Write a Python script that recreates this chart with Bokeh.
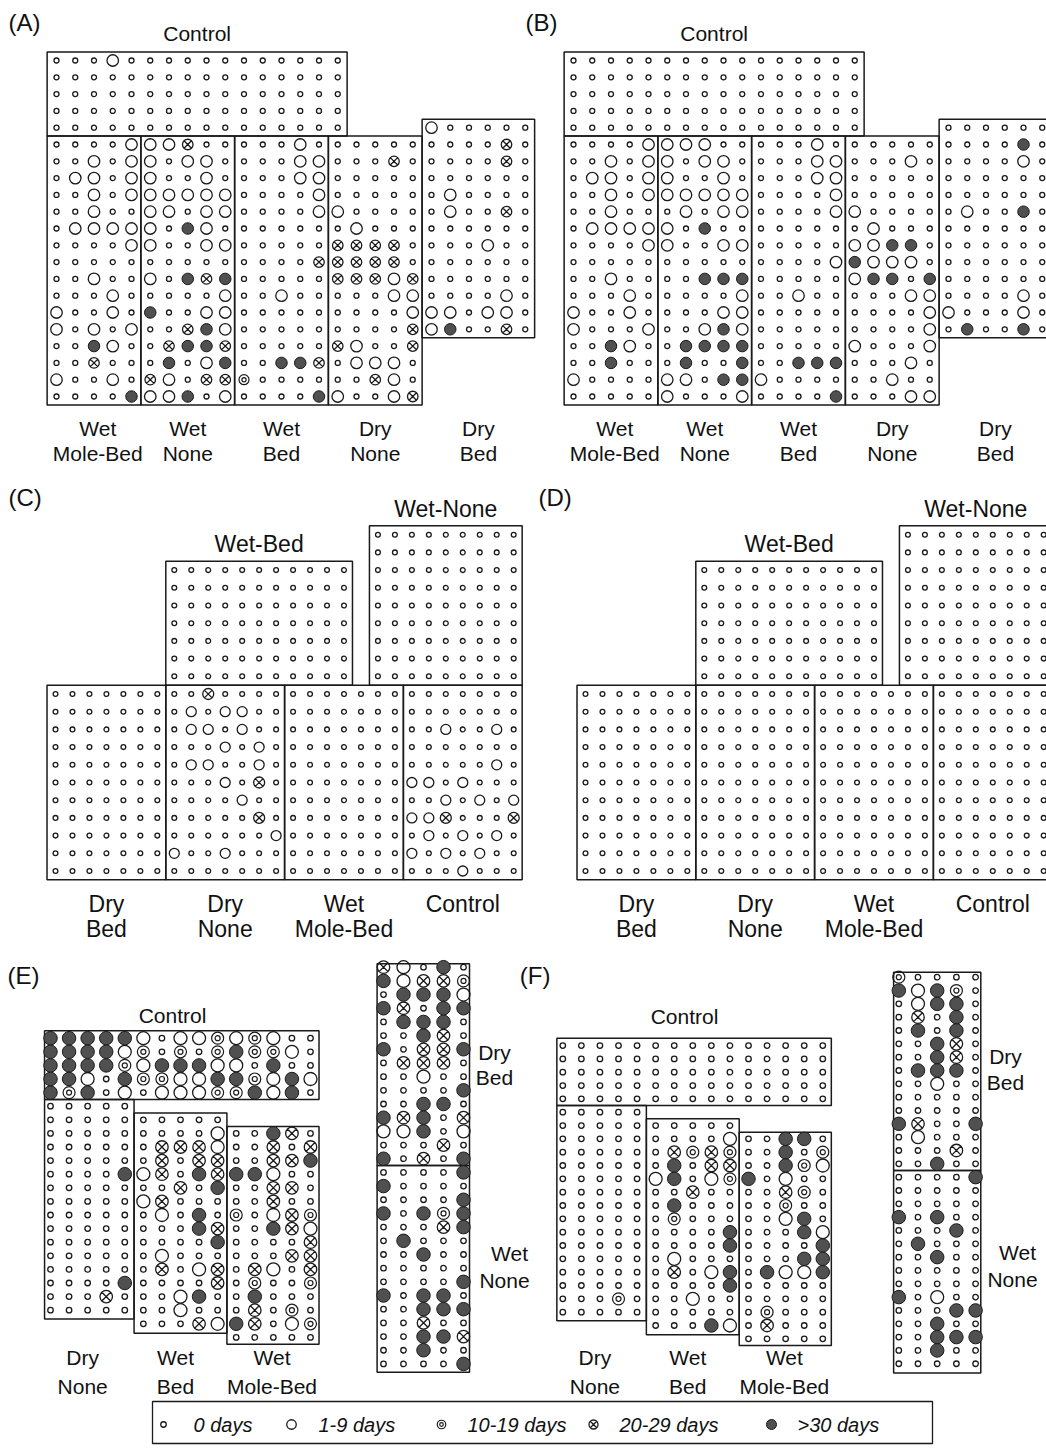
from bokeh.plotting import figure
from bokeh.models import Range1d, ColumnDataSource
from bokeh.embed import file_html
from bokeh.resources import INLINE
from bokeh.core.properties import value

# ---------------- DATA ----------------
# category codes: 0 = 0 days, 1 = 1-9 days, 2 = 10-19 days, 3 = 20-29 days, 4 = >30 days
CATEGORY_LABELS = ["0 days", "1-9 days", "10-19 days", "20-29 days", ">30 days"]

# Panel A
A_CONTROL = ["0001000000000000", "0000000000000000", "0000000000000000",
             "0000000000000000", "0000000000000000"]
A_WET_MOLE_BED = ["00001", "00101", "01101", "00101", "00100", "01111", "00001", "00000",
                  "00100", "00010", "10010", "10101", "00410", "00300", "10010", "00004"]
A_WET_NONE = ["11300", "10110", "10010", "11111", "11011", "10410", "10011", "00000",
              "10434", "00001", "40011", "00341", "03443", "04014", "31033", "11401"]
A_WET_BED = ["00010", "00011", "00011", "00001", "00001", "00000", "00000", "00003",
             "00000", "00100", "00000", "00000", "00000", "00443", "20000", "00004"]
A_DRY_NONE = ["00000", "00030", "00000", "00000", "10000", "01000", "33330", "33330",
              "33313", "00011", "00001", "00003", "31003", "01110", "00310", "10013"]
A_DRY_BED = ["100000", "000030", "000030", "000000", "010000", "010030", "000000",
             "000100", "000000", "000000", "000010", "110110", "140030"]

# Panel B
B_CONTROL = ["0000000000000000", "0000000000000000", "0000000000000000",
             "0000000000000000", "0000000000000000"]
B_WET_MOLE_BED = ["00001", "00101", "01101", "00101", "00100", "01111", "00001", "00000",
                  "00100", "00010", "10010", "10001", "00410", "00400", "10000", "00000"]
B_WET_NONE = ["11100", "10110", "10010", "11111", "01011", "10400", "10011", "00000",
              "00444", "00001", "00011", "00141", "04444", "04004", "11044", "10001"]
B_WET_BED = ["00010", "00011", "00011", "00001", "00001", "00000", "00000", "00001",
             "00000", "00100", "00000", "00000", "00000", "00444", "10000", "00004"]
B_DRY_NONE = ["00000", "00010", "00000", "00000", "10000", "01000", "11440", "41110",
              "14404", "00011", "00001", "00001", "10001", "00010", "00100", "00011"]
B_DRY_BED = ["000000", "000040", "000010", "000000", "000000", "010040", "000000",
             "000000", "000000", "000000", "000010", "100010", "040040"]

# Panel C
C_WET_BED_TOP = ["00000000000", "00000000000", "00000000000", "00000000000",
                 "00000000000", "00000000000", "00000000000"]
C_WET_NONE_TOP = ["000000000", "000000000", "000000000", "000000000", "000000000",
                  "000000000", "000000000", "000000000", "000000000"]
C_DRY_BED = ["0000000", "0000000", "0000000", "0000000", "0000000", "0000000",
             "0000000", "0000000", "0000000", "0000000", "0000000"]
C_DRY_NONE = ["0030000", "0101100", "0110100", "0001010", "0110010", "0001030",
              "0000100", "0000030", "0000001", "1001000", "0000000"]
C_WET_MOLE_BED = ["0000000", "0000000", "0000000", "0000000", "0000000", "0000000",
                  "0000000", "0000000", "0000000", "0000000", "0000000"]
C_CONTROL = ["0000000", "0000000", "0010010", "0000000", "0000010", "1101000",
             "0010101", "1130003", "0101010", "1010100", "0001000"]

# Panel D
D_WET_BED_TOP = ["00000000000", "00000000000", "00000000000", "00000000000",
                 "00000000000", "00000000000", "00000000000"]
D_WET_NONE_TOP = ["000000000", "000000000", "000000000", "000000000", "000000000",
                  "000000000", "000000000", "000000000", "000000000"]
D_DRY_BED = ["0000000", "0000000", "0000000", "0000000", "0000000", "0000000",
             "0000000", "0000000", "0000000", "0000000", "0000000"]
D_DRY_NONE = ["0000000", "0000000", "0000000", "0000000", "0000000", "0000000",
              "0000000", "0000000", "0000000", "0000000", "0000000"]
D_WET_MOLE_BED = ["0000000", "0000000", "0000000", "0000000", "0000000", "0000000",
                  "0000000", "0000000", "0000000", "0000000", "0000000"]
D_CONTROL = ["0000000", "0000000", "0000000", "0000000", "0000000", "0000000",
             "0000000", "0000000", "0000000", "0000000", "0000000"]

# Panel E
E_CONTROL = ["444441011212100", "444412020242210", "444421444110400",
             "441042211442141", "424010111224140"]
E_DRY_NONE = ["00000", "00000", "00000", "00000", "00000", "00004", "00000", "00000",
              "00000", "00000", "00000", "00000", "00000", "00004", "00030", "00000"]
E_WET_BED = ["00000", "00001", "03331", "03033", "13043", "00304", "13000", "01040",
             "00043", "00004", "01000", "03013", "00003", "00140", "00100", "00031"]
E_WET_MOLE_BED = ["00430", "00303", "00334", "44100", "00330", "00300", "20132", "00431",
                  "00003", "00033", "03103", "02002", "04000", "03020", "43012", "00000"]
E_STRIP_DRY_BED = ["31040", "41332", "04441", "43044", "04440", "00430", "40334", "03330",
                   "00100", "00004", "00440", "43403", "11401", "00030", "40304"]
E_STRIP_WET_NONE = ["00004", "40000", "00004", "40424", "00034", "04000", "00400", "00000",
                    "00004", "40440", "00444", "00300", "00443", "00400", "00004"]

# Panel F
F_CONTROL = ["000000000000000", "000000000000000", "000000000000000",
             "000000000000000", "000000000000000"]
F_DRY_NONE = ["00000", "00000", "00000", "00000", "00000", "00000", "00000", "00000",
              "00000", "00000", "00000", "00000", "00000", "00000", "00020", "00000"]
F_WET_BED = ["00000", "00001", "03232", "04033", "14012", "00300", "04000", "02000",
             "00004", "00004", "01000", "03014", "00004", "00100", "00000", "00041"]
F_WET_MOLE_BED = ["00440", "00402", "00421", "40100", "00320", "00200", "00140", "00041",
                  "00004", "00044", "04114", "00000", "00000", "02000", "03000", "00000"]
F_STRIP_DRY_BED = ["20000", "41420", "01440", "03040", "04040", "00430", "00430", "04440",
                   "00100", "00000", "00000", "43004", "01000", "00030", "00400"]
F_STRIP_WET_NONE = ["00004", "00000", "00000", "40400", "00040", "04000", "00400", "00000",
                    "00000", "40100", "00044", "00400", "00444", "00400", "00000"]

# ---------------- LAYOUT ----------------
W, H = 1046, 1451
FONT = value("Liberation Sans")
INK = "#1a1a1a"
FILL = "#505050"


class Grid:
    def __init__(self, x0, dx, y0, dy, sizes):
        self.x0, self.dx, self.y0, self.dy, self.sizes = x0, dx, y0, dy, sizes

    def X(self, c):
        return self.x0 + c * self.dx

    def Y(self, r):
        return self.y0 + r * self.dy


pts = {k: {"x": [], "y": [], "s": []} for k in range(5)}
boxes = {"left": [], "right": [], "top": [], "bottom": []}
labels = []  # (x, y, text, size, align)


def block(g, grid, c0, r0):
    for i, row in enumerate(grid):
        for j, ch in enumerate(row):
            k = int(ch)
            pts[k]["x"].append(g.X(c0 + j))
            pts[k]["y"].append(g.Y(r0 + i))
            pts[k]["s"].append(g.sizes[k])


def box(g, c_a, c_b, r_a, r_b):
    boxes["left"].append(g.X(c_a))
    boxes["right"].append(g.X(c_b))
    boxes["top"].append(g.Y(r_a))
    boxes["bottom"].append(g.Y(r_b))


def label(x, y, text, size, align="center"):
    labels.append((x, y, text, size, align))


SIZES_AB = [5.0, 11.5, 10.0, 10.5, 11.5]
SIZES_CD = [4.8, 10.0, 9.5, 11.0, 10.5]
SIZES_EF = [5.5, 13.0, 12.0, 12.5, 13.5]


def panel_ab(x0, tag, ctrl, wmb, wn, wb, dn, db):
    g = Grid(x0, 18.75, 144.0, 16.8, SIZES_AB)
    block(g, ctrl, 0, -5)
    block(g, wmb, 0, 0)
    block(g, wn, 5, 0)
    block(g, wb, 10, 0)
    block(g, dn, 15, 0)
    block(g, db, 20, -1)
    box(g, -0.5, 15.5, -5.5, -0.5)
    box(g, -0.5, 4.5, -0.5, 15.5)
    box(g, 4.5, 9.5, -0.5, 15.5)
    box(g, 9.5, 14.5, -0.5, 15.5)
    box(g, 14.5, 19.5, -0.5, 15.5)
    box(g, 19.5, 25.5, -1.5, 11.5)
    fs = 21
    label(x0 - 48, 22, tag, 24, "left")
    label(g.X(7.5), 33, "Control", fs)
    for c, l1, l2 in [(2.2, "Wet", "Mole-Bed"), (7, "Wet", "None"), (12, "Wet", "Bed"),
                      (17, "Dry", "None"), (22.5, "Dry", "Bed")]:
        label(g.X(c), 428, l1, fs)
        label(g.X(c), 453, l2, fs)


def panel_cd(x0, tag, wbt, wnt, dbed, dn, wmb, ctrl):
    g = Grid(x0, 16.97, 693.5, 17.7, SIZES_CD)
    block(g, wbt, 7, -7)
    block(g, wnt, 19, -9)
    block(g, dbed, 0, 0)
    block(g, dn, 7, 0)
    block(g, wmb, 14, 0)
    block(g, ctrl, 21, 0)
    box(g, 6.5, 17.5, -7.5, -0.5)
    box(g, 18.5, 27.5, -9.5, -0.5)
    box(g, -0.5, 6.5, -0.5, 10.5)
    box(g, 6.5, 13.5, -0.5, 10.5)
    box(g, 13.5, 20.5, -0.5, 10.5)
    box(g, 20.5, 27.5, -0.5, 10.5)
    fs = 23
    label(x0 - 47, 497, tag, 24, "left")
    label(g.X(12), 543, "Wet-Bed", fs)
    label(g.X(23), 508, "Wet-None", fs)
    for c, l1, l2 in [(3, "Dry", "Bed"), (10, "Dry", "None"), (17, "Wet", "Mole-Bed")]:
        label(g.X(c), 903, l1, fs)
        label(g.X(c), 928, l2, fs)
    label(g.X(24), 903, "Control", fs)


def panel_ef(x0, y0, dy, tag, ctrl, dn, wb, wmb, ctrl_x, ctrl_y,
             sx0, sdx, sy0, sdy, s_top, s_bot, s_left, s_right, strip_db, strip_wn,
             rl_x, rl_y):
    g = Grid(x0, 18.57, y0, dy, SIZES_EF)
    block(g, ctrl, 0, -5)
    block(g, dn, 0, 0)
    block(g, wb, 5, 1)
    block(g, wmb, 10, 2)
    box(g, -0.32, 14.46, -5.55, -0.5)
    box(g, -0.32, 4.5, -0.5, 15.65)
    box(g, 4.5, 9.5, 0.5, 16.7)
    box(g, 9.5, 14.46, 1.5, 17.5)
    s = Grid(sx0, sdx, sy0, sdy, SIZES_EF)
    block(s, strip_db, 0, 0)
    block(s, strip_wn, 0, 15)
    box(s, s_left, s_right, s_top, 14.5)
    box(s, s_left, s_right, 14.5, s_bot)
    fs = 21
    label(x0 - 43, 975, tag, 24, "left")
    label(ctrl_x, ctrl_y, "Control", fs)
    for c, l1, l2 in [(2, "Dry", "None"), (7, "Wet", "Bed"), (12.2, "Wet", "Mole-Bed")]:
        label(g.X(c) - 5, 1357, l1, fs)
        label(g.X(c) - 5, 1386, l2, fs)
    (xd, xb, xw, xn), (yd, yb, yw, yn) = rl_x, rl_y
    label(xd, yd, "Dry", fs)
    label(xb, yb, "Bed", fs)
    label(xw, yw, "Wet", fs)
    label(xn, yn, "None", fs)


panel_ab(56.0, "(A)", A_CONTROL, A_WET_MOLE_BED, A_WET_NONE, A_WET_BED, A_DRY_NONE, A_DRY_BED)
panel_ab(573.0, "(B)", B_CONTROL, B_WET_MOLE_BED, B_WET_NONE, B_WET_BED, B_DRY_NONE, B_DRY_BED)
panel_cd(55.0, "(C)", C_WET_BED_TOP, C_WET_NONE_TOP, C_DRY_BED, C_DRY_NONE, C_WET_MOLE_BED, C_CONTROL)
panel_cd(585.0, "(D)", D_WET_BED_TOP, D_WET_NONE_TOP, D_DRY_BED, D_DRY_NONE, D_WET_MOLE_BED, D_CONTROL)
panel_ef(50.0, 1105.7, 13.6, "(E)", E_CONTROL, E_DRY_NONE, E_WET_BED, E_WET_MOLE_BED, 172, 1015,
         383.0, 20.0, 966.7, 13.68, -0.25, 29.6, -0.32, 4.3, E_STRIP_DRY_BED, E_STRIP_WET_NONE,
         (494, 494, 509, 504), (1052, 1077, 1253, 1280))
panel_ef(562.3, 1111.7, 13.33, "(F)", F_CONTROL, F_DRY_NONE, F_WET_BED, F_WET_MOLE_BED, 684, 1016,
         898.3, 19.2, 976.7, 13.33, -0.38, 29.7, -0.27, 4.27, F_STRIP_DRY_BED, F_STRIP_WET_NONE,
         (1005, 1005, 1017, 1012), (1056, 1082, 1252, 1279))

# ---------------- FIGURE ----------------
p = figure(width=W, height=H, x_range=Range1d(0, W), y_range=Range1d(H, 0),
           output_backend="svg", toolbar_location=None, min_border=0,
           x_axis_location=None, y_axis_location=None)
p.grid.visible = False
p.outline_line_color = None
p.background_fill_color = "white"
p.border_fill_color = "white"

p.quad(source=ColumnDataSource(boxes), left="left", right="right", top="top", bottom="bottom",
       fill_color=None, line_color=INK, line_width=1.5)

# legend box and entries (layout positions)
LEG_BOX = (152, 932, 1401, 1443)
LEG_MARK_X = [163, 291, 441, 593, 771]
LEG_TEXT_X = [193, 318, 467, 619, 797]
LEG_Y = 1424
LEG_SIZES = [5.5, 9.5, 8.5, 9.0, 10.0]
p.quad(left=[LEG_BOX[0]], right=[LEG_BOX[1]], top=[LEG_BOX[2]], bottom=[LEG_BOX[3]],
       fill_color=None, line_color=INK, line_width=1.3)
for k in range(5):
    pts[k]["x"].append(LEG_MARK_X[k])
    pts[k]["y"].append(LEG_Y)
    pts[k]["s"].append(LEG_SIZES[k])

src = {k: ColumnDataSource(dict(x=pts[k]["x"], y=pts[k]["y"], s=pts[k]["s"],
                                si=[v * 0.42 for v in pts[k]["s"]])) for k in range(5)}
p.scatter("x", "y", size="s", source=src[0], marker="circle", fill_color=None,
          line_color=INK, line_width=1.3)
p.scatter("x", "y", size="s", source=src[1], marker="circle", fill_color=None,
          line_color=INK, line_width=1.3)
p.scatter("x", "y", size="s", source=src[2], marker="circle", fill_color=None,
          line_color=INK, line_width=1.2)
p.scatter("x", "y", size="si", source=src[2], marker="circle", fill_color=None,
          line_color=INK, line_width=1.2)
p.scatter("x", "y", size="s", source=src[3], marker="circle_x", fill_color=None,
          line_color=INK, line_width=1.3)
p.scatter("x", "y", size="s", source=src[4], marker="circle", fill_color=FILL,
          line_color=INK, line_width=1.0)

for (x, y, t, fs, al) in labels:
    p.text(x=[x], y=[y], text=[t], text_font=FONT, text_font_size=f"{fs}px",
           text_align=al, text_baseline="middle", text_color="#111111")

for k in range(5):
    p.text(x=[LEG_TEXT_X[k]], y=[LEG_Y], text=[CATEGORY_LABELS[k]], text_font=FONT,
           text_font_size="20px", text_font_style="italic", text_align="left",
           text_baseline="middle", text_color="#111111")

open("out.html", "w").write(file_html(p, INLINE))
